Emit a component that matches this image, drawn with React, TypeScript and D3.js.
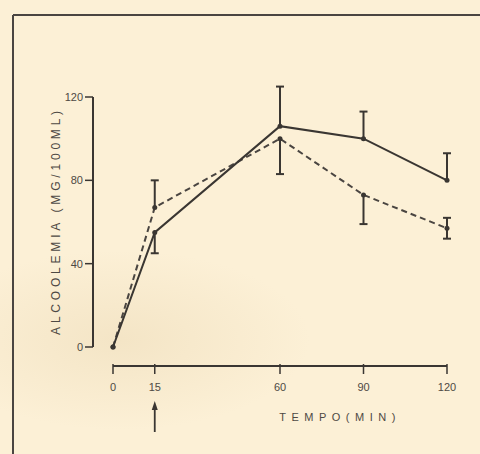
import React from "react";
import * as d3 from "d3";

const times = [0, 15, 60, 90, 120];
const solidValues = [0, 55, 106, 100, 80];
const solidErr = [0, 10, 19, 13, 13];
const solidErrDir = [0, -1, 1, 1, 1];
const dashedValues = [0, 67, 100, 73, 57];
const dashedErr = [0, 13, 17, 14, 5];
const dashedErrDir = [0, 1, -1, -1, 0];
const xTicks = [0, 15, 60, 90, 120];
const yTicks = [0, 40, 80, 120];
const yLabel = "ALCOOLEMIA (MG/100ML)";
const xLabel = "TEMPO(MIN)";

const W = 480;
const H = 454;
const ink = "#3a3632";
const textInk = "#4e4944";

export default function App() {
  const x = d3.scaleLinear().domain([0, 120]).range([113, 447]);
  const y = d3.scaleLinear().domain([0, 120]).range([347, 97]);
  const xAxisY = 366;
  const yAxisX = 93;

  const line = d3
    .line<number>()
    .x((_, i) => x(times[i]))
    .y((d) => y(d));

  const errorBars = (vals: number[], errs: number[], dirs: number[], key: string) =>
    vals.map((v, i) => {
      if (errs[i] === 0) return null;
      const cx = x(times[i]);
      const top = dirs[i] >= 0 ? v + errs[i] : v;
      const bot = dirs[i] <= 0 ? v - errs[i] : v;
      return (
        <g key={key + i} stroke={ink} strokeWidth={2}>
          <line x1={cx} x2={cx} y1={y(top)} y2={y(bot)} />
          {dirs[i] >= 0 && <line x1={cx - 4} x2={cx + 4} y1={y(top)} y2={y(top)} />}
          {dirs[i] <= 0 && <line x1={cx - 4} x2={cx + 4} y1={y(bot)} y2={y(bot)} />}
        </g>
      );
    });

  return (
    <div style={{ position: "fixed", left: 0, top: 0, width: W, height: H }}>
      <svg width={W} height={H} style={{ display: "block" }}>
        <defs>
          <radialGradient id="shade" cx="0.5" cy="0.5" r="0.5">
            <stop offset="0" stopColor="#ead7b2" stopOpacity={0.45} />
            <stop offset="1" stopColor="#ead7b2" stopOpacity={0} />
          </radialGradient>
        </defs>
        <rect x={0} y={0} width={W} height={H} fill="#fcf0d6" />
        <ellipse cx={120} cy={340} rx={190} ry={90} fill="url(#shade)" />
        {/* frame */}
        <line x1={13} x2={480} y1={15} y2={15} stroke="#4a4541" strokeWidth={2} />
        <line x1={13} x2={13} y1={15} y2={454} stroke="#4a4541" strokeWidth={2} />

        {/* y axis */}
        <g fontFamily="'Liberation Sans', Arial, sans-serif" fontSize={11} fill={textInk}>
          <line x1={yAxisX} x2={yAxisX} y1={y(120)} y2={y(0)} stroke={ink} strokeWidth={2} />
          {yTicks.map((t) => (
            <g key={"yt" + t}>
              <line x1={yAxisX - 8} x2={yAxisX} y1={y(t)} y2={y(t)} stroke={ink} strokeWidth={1.5} />
              <text x={yAxisX - 10} y={y(t)} dy="0.35em" textAnchor="end">
                {t}
              </text>
            </g>
          ))}
          <text
            transform={`translate(56, ${(y(0) + y(120)) / 2 - 1}) rotate(-90)`}
            textAnchor="middle"
            dy="0.35em"
            fontSize={12}
            letterSpacing={3.8}
          >
            {yLabel}
          </text>
        </g>

        {/* x axis */}
        <g fontFamily="'Liberation Sans', Arial, sans-serif" fontSize={11} fill={textInk}>
          <line x1={x(0)} x2={x(120)} y1={xAxisY} y2={xAxisY} stroke={ink} strokeWidth={2} />
          {xTicks.map((t) => (
            <g key={"xt" + t}>
              <line x1={x(t)} x2={x(t)} y1={xAxisY - 2} y2={xAxisY + 8} stroke={ink} strokeWidth={1.5} />
              <text x={x(t)} y={xAxisY + 21} dy="0.35em" textAnchor="middle">
                {t}
              </text>
            </g>
          ))}
          <text x={340} y={417} dy="0.35em" textAnchor="middle" fontSize={11} letterSpacing={5.5}>
            {xLabel}
          </text>
          {/* arrow under 15 */}
          <line x1={x(15)} x2={x(15)} y1={406} y2={432} stroke={ink} strokeWidth={1.8} />
          <path
            d={`M${x(15) - 3},${410} L${x(15)},${401} L${x(15) + 3},${410} Z`}
            fill={ink}
          />
        </g>

        {/* series */}
        <path d={line(dashedValues) ?? ""} fill="none" stroke="#4a4541" strokeWidth={2} strokeDasharray="6,4" />
        <path d={line(solidValues) ?? ""} fill="none" stroke={ink} strokeWidth={2} />
        {errorBars(solidValues, solidErr, solidErrDir, "s")}
        {errorBars(dashedValues, dashedErr, dashedErrDir, "d")}
        {solidValues.map((v, i) => (
          <circle key={"sp" + i} cx={x(times[i])} cy={y(v)} r={2.5} fill={ink} />
        ))}
        {dashedValues.map((v, i) => (
          <circle key={"dp" + i} cx={x(times[i])} cy={y(v)} r={2.5} fill={ink} />
        ))}
      </svg>
    </div>
  );
}
